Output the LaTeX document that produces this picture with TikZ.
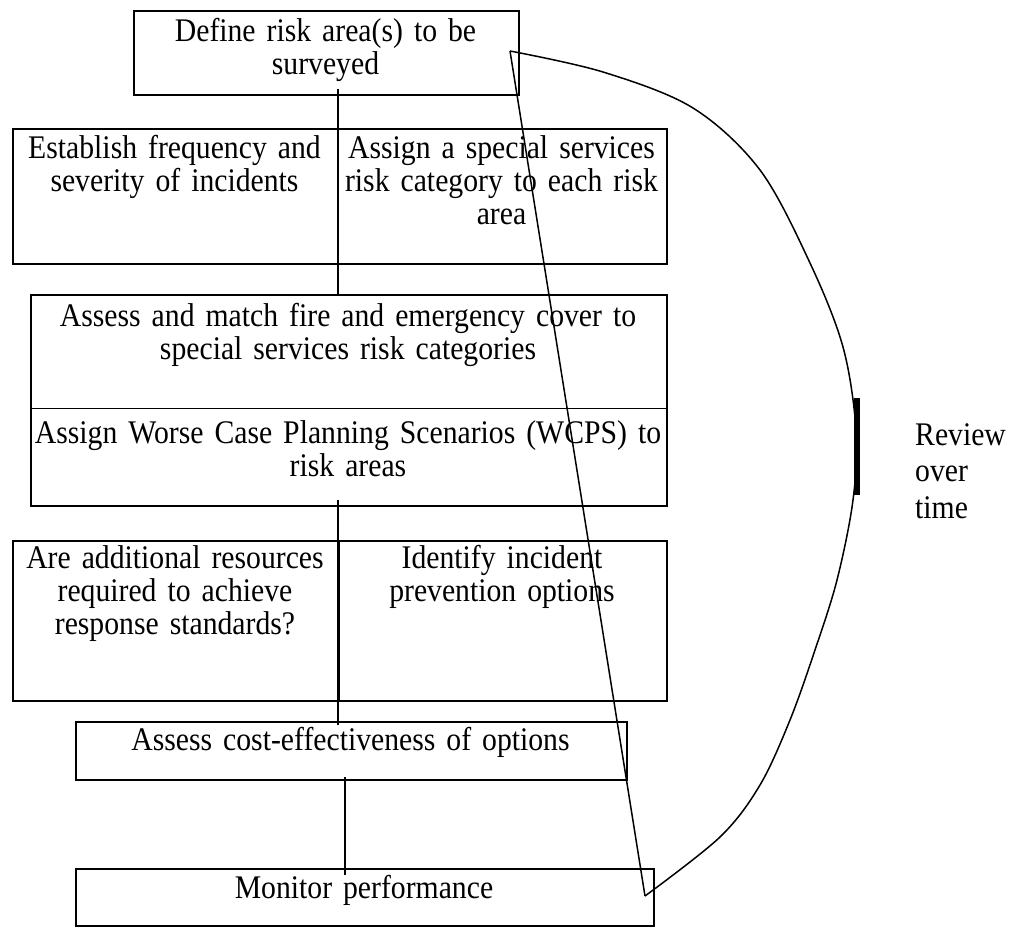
\documentclass[tikz,border=0pt]{standalone}
\usepackage{fontspec}
\setmainfont{Liberation Serif}[FakeStretch=0.9]
\begin{document}
\begin{tikzpicture}[x=1pt,y=-1pt,
  box/.style={draw,line width=1.6pt,inner sep=0pt,rectangle,anchor=north west},
  txt/.style={font=\fontsize{33}{33}\selectfont,align=center,inner sep=0pt,anchor=base},
  conn/.style={line width=2pt},
  thin/.style={line width=1.5pt,line join=round}]
\useasboundingbox (0,0) rectangle (1015,929);
% boxes
\node[box,minimum width=385pt,minimum height=84pt] (define) at (133,10) {};
\node[txt,text width=380pt] (definetxt) at (325.5,41) {Define risk area(s) to be\\surveyed};
\node[box,minimum width=325pt,minimum height=135pt] (freq) at (12,128) {};
\node[txt,text width=320pt] (freqtxt) at (174.5,158) {Establish frequency and\\severity of incidents};
\node[box,minimum width=329pt,minimum height=135pt] (cat) at (337,128) {};
\node[txt,text width=325pt] (cattxt) at (501.5,158) {Assign a special services\\risk category to each risk\\area};
\node[box,minimum width=636pt,minimum height=211pt] (assess) at (30,294) {};
\node[txt,text width=630pt] (assesstxt) at (348,326) {Assess and match fire and emergency cover to\\special services risk categories};
\node[txt,text width=630pt] (wcpstxt) at (348,443) {Assign Worse Case Planning Scenarios (WCPS) to\\risk areas};
\coordinate (d1) at (30,408);
\coordinate (d2) at (666,408);
\draw[line width=1pt] (d1) -- (d2);
\node[box,minimum width=326pt,minimum height=160pt] (res) at (12,540) {};
\node[txt,text width=320pt] (restxt) at (175,568) {Are additional resources\\required to achieve\\response standards?};
\node[box,minimum width=328pt,minimum height=160pt] (prev) at (338,540) {};
\node[txt,text width=320pt] (prevtxt) at (502,568) {Identify incident\\prevention options};
\node[box,minimum width=551pt,minimum height=58pt] (cost) at (75,721) {};
\node[txt,text width=545pt] (costtxt) at (350.5,750) {Assess cost-effectiveness of options};
\node[box,minimum width=578pt,minimum height=57pt] (mon) at (75,868) {};
\node[txt,text width=570pt] (montxt) at (364,898) {Monitor performance};
% connectors
\coordinate (a1) at (338,89);
\coordinate (a2) at (338,294);
\coordinate (b1) at (338,500);
\coordinate (b2) at (338,725);
\coordinate (c1) at (345,777);
\coordinate (c2) at (345,875);
\draw[conn] (a1) -- (a2);
\draw[conn] (b1) -- (b2);
\draw[conn] (c1) -- (c2);
% review loop
\coordinate (apex) at (510,51);
\coordinate (tip) at (645,896);
\draw[thin] (apex) -- (tip);
\draw[thin] plot[smooth,tension=0.55] coordinates {(510,51) (603,72) (693,108) (760,170) (810,263) (843,347) (856,430) (853,500) (837,580) (815,650) (790,720) (760,785) (720,837) (645,896)};
\fill (854,398) rectangle (860,495);
\node[font=\fontsize{33}{36.5}\selectfont,align=left,inner sep=0pt,anchor=base west,text width=100pt] (review) at (915,445) {Review\\over\\time};
\end{tikzpicture}
\end{document}
